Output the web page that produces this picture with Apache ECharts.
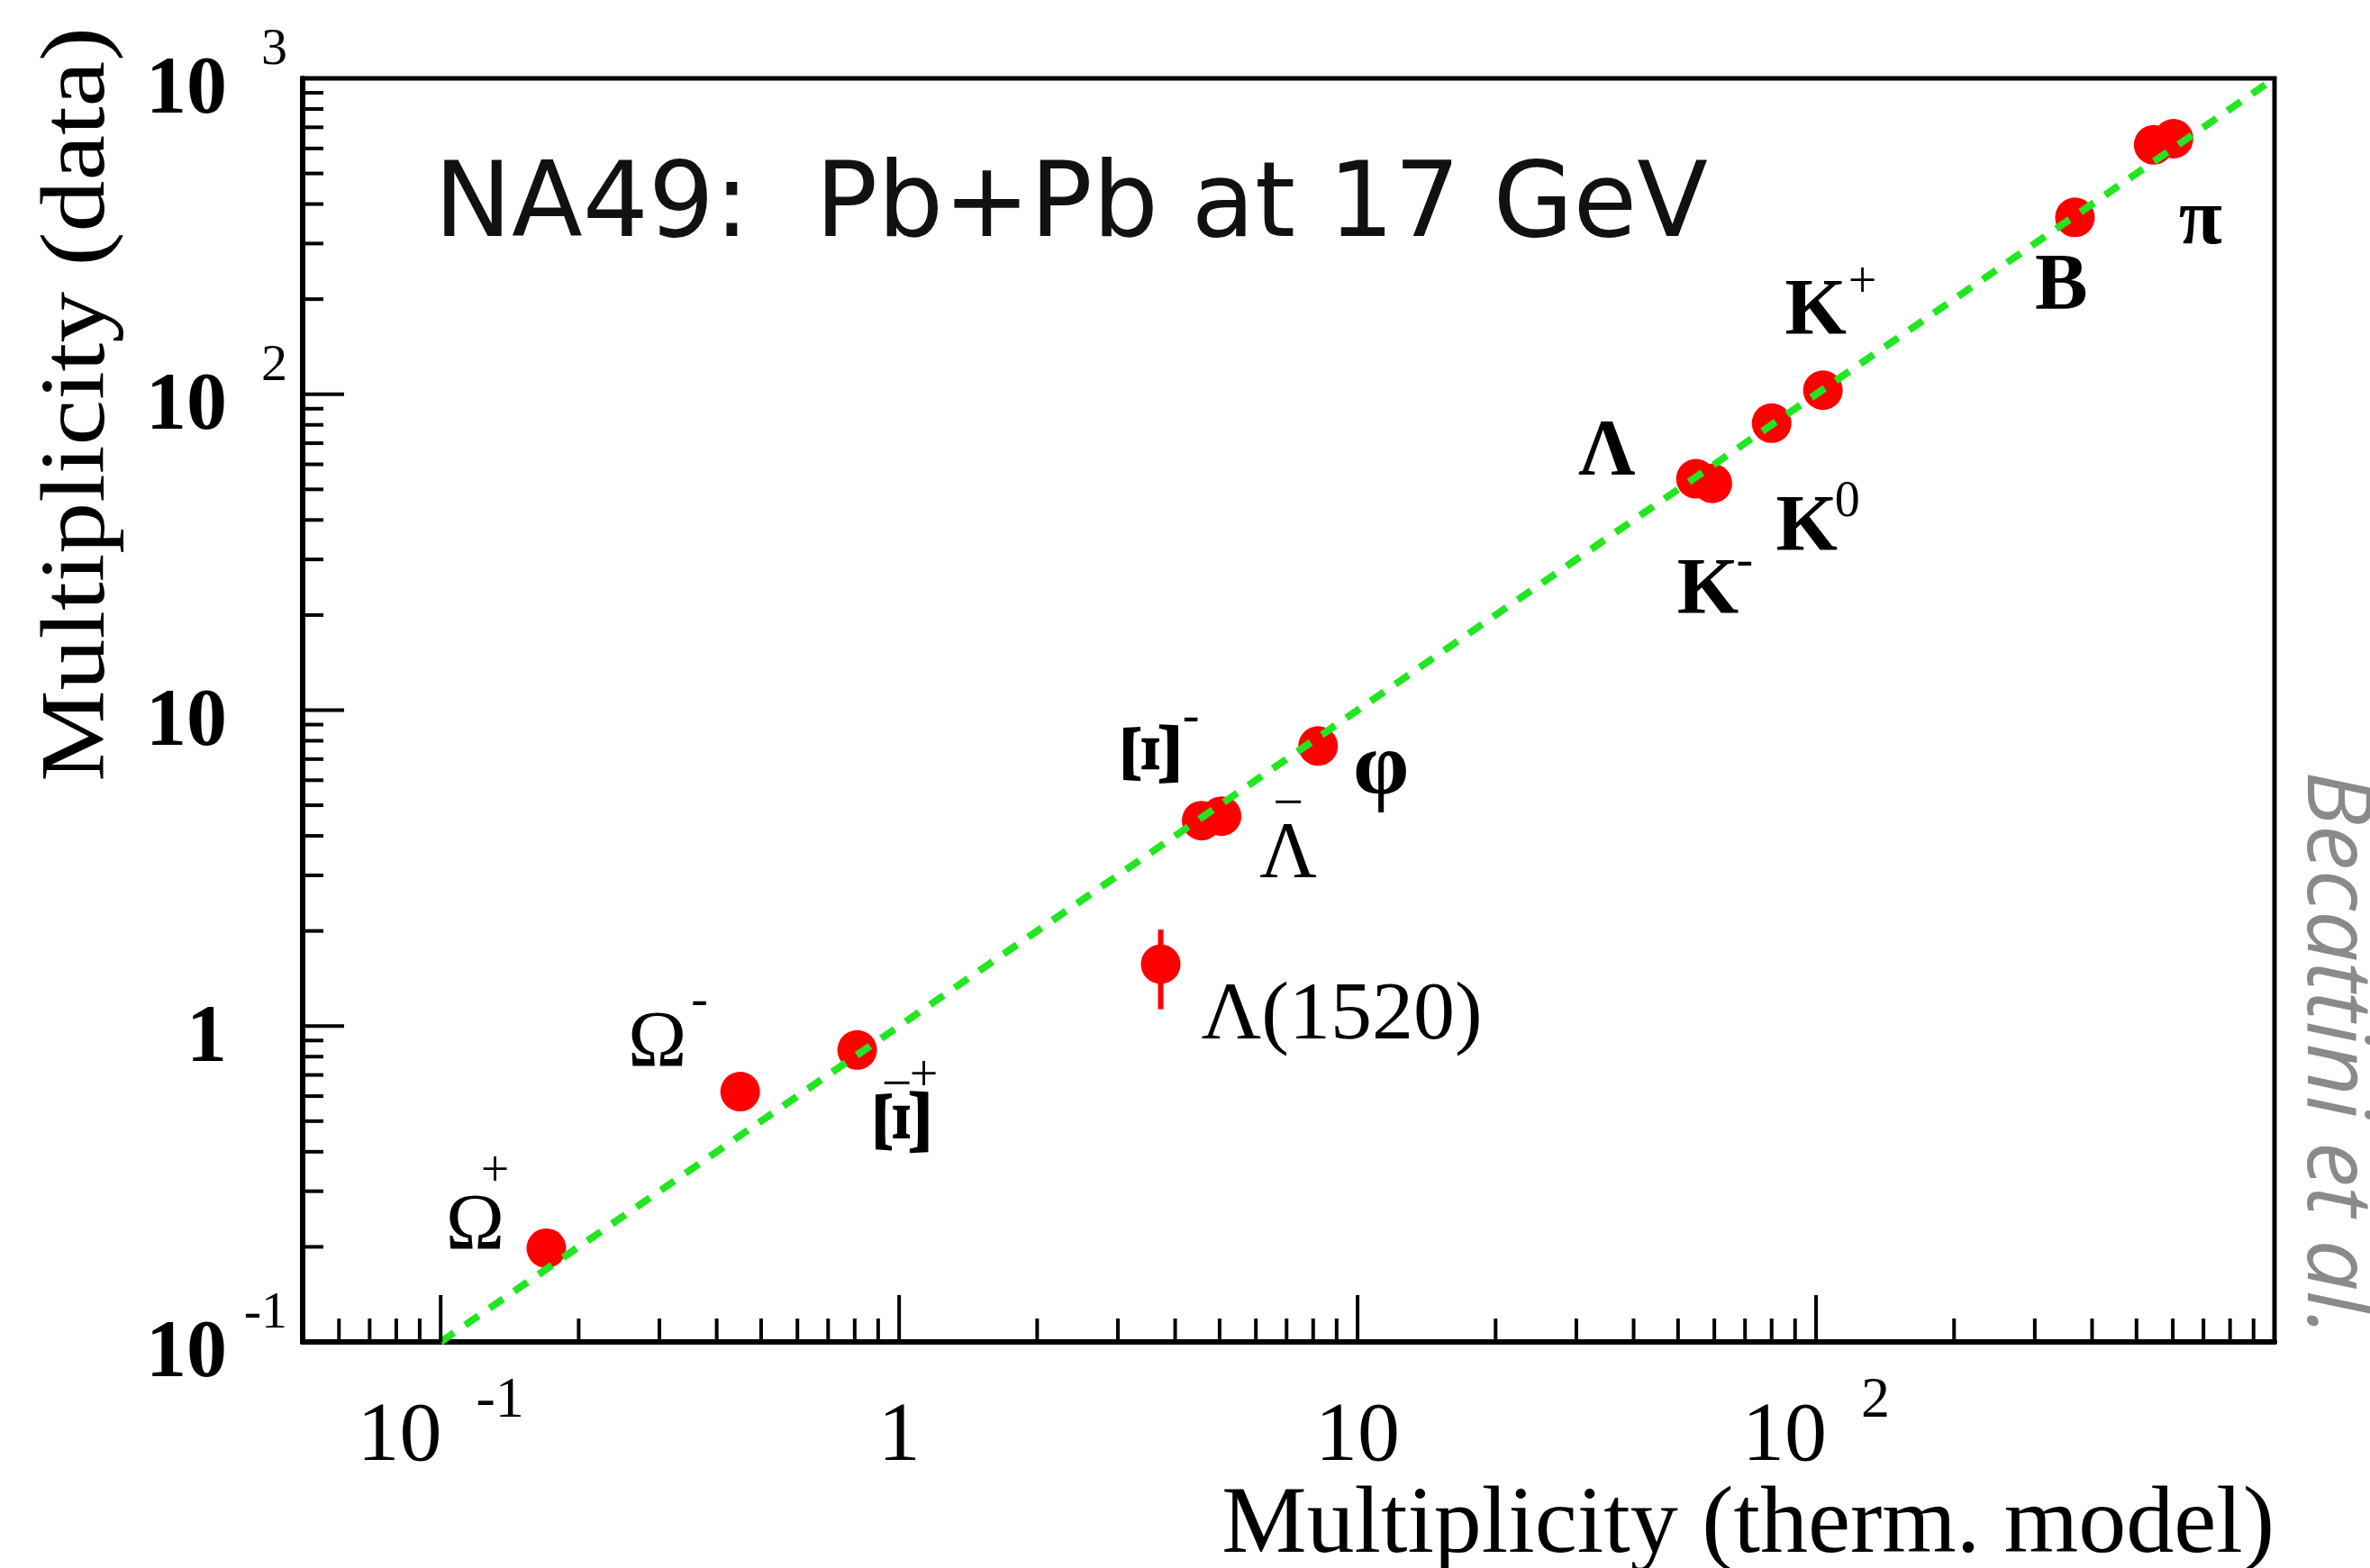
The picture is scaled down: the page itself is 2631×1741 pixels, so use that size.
<!DOCTYPE html>
<html>
<head>
<meta charset="utf-8">
<script src="https://cdn.jsdelivr.net/npm/echarts@6/dist/echarts.min.js"></script>
<style>
  html, body { margin: 0; padding: 0; background: #ffffff; }
  #chart { width: 2631px; height: 1741px; }
</style>
</head>
<body>
<div id="chart"></div>
<script>
// Hadron multiplicities in central Pb+Pb at 17 GeV: thermal-model prediction vs. measurement
const particles  = ['anti-Omega+', 'Omega-', 'anti-Xi+', 'Lambda(1520)', 'Xi-', 'anti-Lambda', 'phi',
                    'Lambda', 'K-', 'K0', 'K+', 'B', 'pi-', 'pi+'];
const thermModel = [0.17, 0.45, 0.81, 3.72, 4.57, 5.05, 8.2, 54.7, 59.4, 80, 103.5, 367, 545, 602];
const measured   = [0.198, 0.62, 0.84, 1.57, 4.47, 4.62, 7.7, 54, 52.2, 81, 103, 363, 616, 644];

// Λ(1520) uncertainty band [low, high]
const lambda1520Range = [1.13, 2.02];

// data = model reference line
const equalityLine = [[0.1, 0.1], [1000, 1000]];

// axis ranges
const X_RANGE = [0.05, 1000];
const Y_RANGE = [0.1, 1000];

// tick positions
const xMajorTicks = [0.1, 1, 10, 100];
const xMinorTicks = [0.06, 0.07, 0.08, 0.09,
                     0.2, 0.3, 0.4, 0.5, 0.6, 0.7, 0.8, 0.9,
                     2, 3, 4, 5, 6, 7, 8, 9,
                     20, 30, 40, 50, 60, 70, 80, 90,
                     200, 300, 400, 500, 600, 700, 800, 900];
const yMajorTicks = [1, 10, 100];
const yMinorTicks = [0.2, 0.3, 0.4, 0.5, 0.6, 0.7, 0.8, 0.9,
                     2, 3, 4, 5, 6, 7, 8, 9,
                     20, 30, 40, 50, 60, 70, 80, 90,
                     200, 300, 400, 500, 600, 700, 800, 900];

// tick labels: [value, mantissa, exponent]
const xTickLabels = [[0.1, '10', '-1'], [1, '1', ''], [10, '10', ''], [100, '10', '2']];
const yTickLabels = [[0.1, '10', '-1'], [1, '1', ''], [10, '10', ''], [100, '10', '2'], [1000, '10', '3']];

// particle annotations: glyph pieces per labelled point
const particleLabels = [
  ['anti-Omega+',  ['Ω', '+']],
  ['Omega-',       ['Ω', '-']],
  ['anti-Xi+',     ['Ξ', '−', '+']],
  ['Lambda(1520)', ['Λ(1520)']],
  ['Xi-',          ['Ξ', '-']],
  ['anti-Lambda',  ['Λ', '−']],
  ['phi',          ['φ']],
  ['Lambda',       ['Λ']],
  ['K-',           ['K', '-']],
  ['K0',           ['K', '0']],
  ['K+',           ['K', '+']],
  ['B',            ['B']],
  ['pi-',          ['π']]
];

// placement of each glyph piece relative to its point (px):
// dx, dy, font size, weight, rotation (deg), stretch along the glyph
const labelPlacement = {
  'anti-Omega+':  [[-79, -23, 88, 'normal', 0, 1], [-57, -84, 56, 'normal', 0, 1]],
  'Omega-':       [[-92, -52, 88, 'normal', 0, 1], [-45, -100, 56, 'normal', 0, 1]],
  'anti-Xi+':     [[56, 80, 88, 'bold', 90, 1.35], [44, 40, 60, 'normal', 0, 1], [74, 30, 56, 'normal', 0, 1]],
  'Lambda(1520)': [[45, 58, 92, 'normal', 0, 1]],
  'Xi-':          [[-50, -74, 94, 'bold', 90, 1.2], [-12, -114, 56, 'normal', 0, 1]],
  'anti-Lambda':  [[74, 44, 88, 'normal', 0, 1], [74, -12, 60, 'normal', 0, 1]],
  'phi':          [[70, 27, 100, 'bold', 0, 1]],
  'Lambda':       [[-99, -28, 88, 'bold', 0, 1]],
  'K-':           [[-5, 120, 88, 'bold', 0, 1], [36, 88, 56, 'normal', 0, 1]],
  'K0':           [[39, 117, 88, 'bold', 0, 1], [84, 88, 56, 'normal', 0, 1]],
  'K+':           [[-8, -86, 88, 'bold', 0, 1], [44, -118, 56, 'normal', 0, 1]],
  'B':            [[-15, 78, 88, 'bold', 0, 1]],
  'pi-':          [[52, 86, 88, 'bold', 0, 1]]
};

const SERIF = 'Liberation Serif';

function findLabel(list, value) {
  for (const item of list) {
    if (Math.abs(Math.log10(value) - Math.log10(item[0])) < 1e-6) return item;
  }
  return null;
}

function tickLine(dim, len) {
  return function (params, api) {
    const cs = params.coordSys;
    if (dim === 'x') {
      const px = api.coord([api.value(0), Y_RANGE[0]])[0];
      const y0 = cs.y + cs.height;
      return { type: 'line', shape: { x1: px, y1: y0, x2: px, y2: y0 - len },
               style: { stroke: '#000', lineWidth: 4 } };
    }
    const py = api.coord([X_RANGE[0], api.value(1)])[1];
    const x0 = cs.x;
    return { type: 'line', shape: { x1: x0, y1: py, x2: x0 + len, y2: py },
             style: { stroke: '#000', lineWidth: 4 } };
  };
}

const pointIndex = {};
particles.forEach((p, i) => { pointIndex[p] = i; });

const labelData = particleLabels.map(([name]) => {
  const i = pointIndex[name];
  return { name, value: [thermModel[i], measured[i]] };
});

const chart = echarts.init(document.getElementById('chart'), null, { renderer: 'canvas' });

chart.setOption({
  backgroundColor: '#ffffff',
  animation: false,
  grid: {
    left: 336, right: 106, top: 87, bottom: 251,
    show: true, borderColor: '#000', borderWidth: 5, backgroundColor: 'transparent'
  },
  xAxis: {
    type: 'log', logBase: 10, min: X_RANGE[0], max: X_RANGE[1],
    axisLine: { show: true, lineStyle: { color: '#000', width: 6 } },
    axisTick: { show: false },
    splitLine: { show: false },
    axisLabel: {
      margin: -21,
      showMinLabel: true, showMaxLabel: true, hideOverlap: false,
      formatter: function (v) {
        const l = findLabel(xTickLabels, v);
        if (!l) return '';
        return l[2] ? '{b|' + l[1] + '}{s|' + l[2] + '}' : '{b|' + l[1] + '}';
      },
      rich: {
        b: { fontFamily: SERIF, fontSize: 94, lineHeight: 174, verticalAlign: 'bottom', color: '#000' },
        s: { fontFamily: SERIF, fontSize: 64, lineHeight: 60, verticalAlign: 'middle', color: '#000', padding: [0, 0, 0, 38] }
      }
    }
  },
  yAxis: {
    type: 'log', logBase: 10, min: Y_RANGE[0], max: Y_RANGE[1],
    axisLine: { show: true, lineStyle: { color: '#000', width: 6 } },
    axisTick: { show: false },
    splitLine: { show: false },
    axisLabel: {
      margin: 17,
      showMinLabel: true, showMaxLabel: true, hideOverlap: false,
      formatter: function (v) {
        const l = findLabel(yTickLabels, v);
        if (!l) return '';
        return '{b|' + l[1] + '}{s|' + (l[2] || ' ') + '}';
      },
      rich: {
        b: { fontFamily: SERIF, fontSize: 90, fontWeight: 'bold', lineHeight: 120, verticalAlign: 'bottom', color: '#000' },
        s: { fontFamily: SERIF, fontSize: 58, lineHeight: 48, verticalAlign: 'top', color: '#000', width: 67, align: 'right' }
      }
    }
  },
  graphic: [
    {
      type: 'text', x: 482, y: 232, z: 10,
      style: { text: 'NA49:  Pb+Pb at 17 GeV', font: '115px "DejaVu Sans"', fill: '#111',
               align: 'left', verticalAlign: 'middle' }
    },
    {
      type: 'text', x: 2525, y: 1695, z: 10,
      style: { text: 'Multiplicity (therm. model)', font: '106px "Liberation Serif"', fill: '#000',
               align: 'right', verticalAlign: 'middle' }
    },
    {
      type: 'text', x: 88, y: 30, rotation: Math.PI / 2, scaleX: 1.116, z: 10,
      style: { text: 'Multiplicity (data)', font: '102px "Liberation Serif"', fill: '#000',
               align: 'right', verticalAlign: 'middle' }
    },
    {
      type: 'text', x: 2590, y: 856, rotation: -Math.PI / 2, z: 10,
      style: { text: 'Becattini et al.', font: 'italic 100px "Open Sans"', fill: '#8a8a8a',
               align: 'left', verticalAlign: 'middle' }
    }
  ],
  series: [
    {
      // minor ticks, bottom axis
      type: 'custom', silent: true, z: 5,
      data: xMinorTicks.map(v => [v, Y_RANGE[0]]),
      encode: { x: 0, y: 1 },
      renderItem: tickLine('x', 26)
    },
    {
      // major ticks, bottom axis
      type: 'custom', silent: true, z: 5,
      data: xMajorTicks.map(v => [v, Y_RANGE[0]]),
      encode: { x: 0, y: 1 },
      renderItem: tickLine('x', 52)
    },
    {
      // minor ticks, left axis
      type: 'custom', silent: true, z: 5,
      data: yMinorTicks.map(v => [X_RANGE[0], v]),
      encode: { x: 0, y: 1 },
      renderItem: tickLine('y', 23)
    },
    {
      // major ticks, left axis
      type: 'custom', silent: true, z: 5,
      data: yMajorTicks.map(v => [X_RANGE[0], v]),
      encode: { x: 0, y: 1 },
      renderItem: tickLine('y', 46)
    },
    {
      // Λ(1520) uncertainty
      type: 'custom', silent: true, z: 3,
      data: [[thermModel[pointIndex['Lambda(1520)']], lambda1520Range[0], lambda1520Range[1]]],
      encode: { x: 0, y: [1, 2] },
      renderItem: function (params, api) {
        const lo = api.coord([api.value(0), api.value(1)]);
        const hi = api.coord([api.value(0), api.value(2)]);
        return { type: 'line', shape: { x1: lo[0], y1: lo[1], x2: hi[0], y2: hi[1] },
                 style: { stroke: '#ff0000', lineWidth: 6 } };
      }
    },
    {
      name: 'measured', type: 'scatter', z: 3,
      symbol: 'circle', symbolSize: 44,
      itemStyle: { color: '#ff0000', opacity: 1 },
      data: particles.map((p, i) => ({ name: p, value: [thermModel[i], measured[i]] }))
    },
    {
      name: 'data = model', type: 'line', z: 4,
      symbol: 'none', silent: true,
      lineStyle: { color: '#22e622', width: 8, type: [18, 15], opacity: 1 },
      data: equalityLine
    },
    {
      // particle annotations
      type: 'custom', silent: true, z: 6,
      data: labelData,
      encode: { x: 0, y: 1 },
      renderItem: function (params, api) {
        const item = labelData[params.dataIndex];
        const glyphs = particleLabels[params.dataIndex][1];
        const place = labelPlacement[item.name];
        const p = api.coord([api.value(0), api.value(1)]);
        return {
          type: 'group',
          children: glyphs.map((g, k) => {
            const [dx, dy, size, weight, rot, stretch] = place[k];
            const isWide = g.length > 1;
            return {
              type: 'text', x: p[0] + dx, y: p[1] + dy,
              rotation: rot * Math.PI / 180, scaleX: stretch,
              style: { text: g, font: weight + ' ' + size + 'px "' + SERIF + '"', fill: '#000',
                       align: isWide ? 'left' : 'center', verticalAlign: 'middle' }
            };
          })
        };
      }
    }
  ]
});
</script>
</body>
</html>
